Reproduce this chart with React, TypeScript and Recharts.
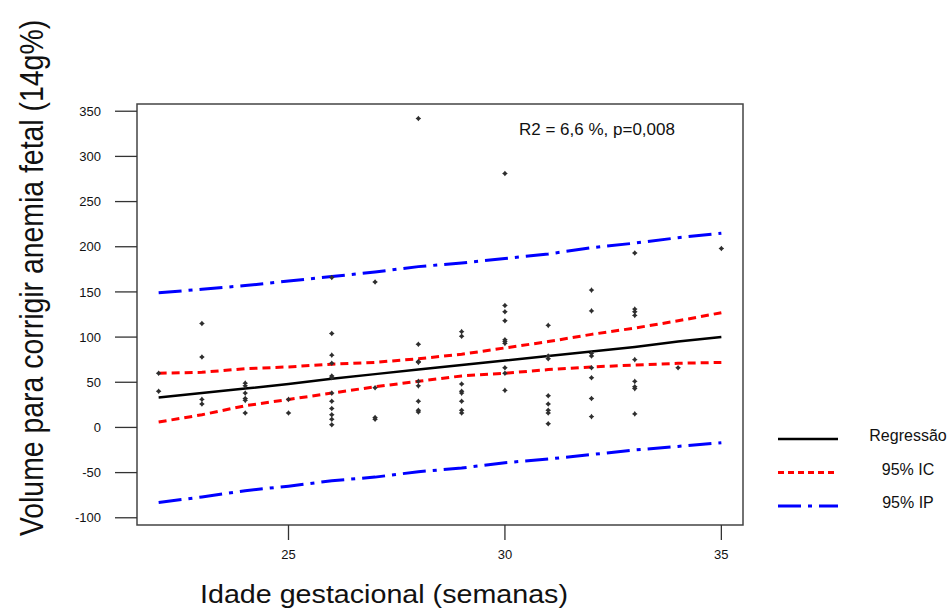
import { ComposedChart, Line, Scatter, XAxis, YAxis, ReferenceArea, Legend } from 'recharts'

// idade gestacional (semanas) para as curvas ajustadas
const weeks = [22, 23, 24, 25, 26, 27, 28, 29, 30, 31, 32, 33, 34, 35]
const regression = [33, 38, 43, 48, 54, 59, 64, 69, 74, 79, 84, 89, 95, 100]
const ciUpper = [60, 61, 65, 67, 70, 72, 76, 81, 88, 95, 103, 110, 118, 127]
const ciLower = [6, 14, 24, 31, 38, 45, 51, 57, 60, 64, 67, 69, 71, 72]
const piUpper = [149, 153, 157, 162, 167, 172, 178, 182, 187, 192, 199, 204, 210, 215]
const piLower = [-83, -77, -70, -65, -59, -55, -49, -45, -39, -35, -30, -25, -21, -17]

// observações (semana, volume)
const obsWeek = [
  22, 22,
  23, 23, 23, 23,
  24, 24, 24, 24, 24, 24,
  25, 25,
  26, 26, 26, 26, 26, 26, 26, 26, 26, 26, 26, 26,
  27, 27, 27, 27,
  28, 28, 28, 28, 28, 28, 28, 28, 28,
  29, 29, 29, 29, 29, 29, 29, 29,
  30, 30, 30, 30, 30, 30, 30, 30, 30, 30,
  31, 31, 31, 31, 31, 31, 31, 31,
  32, 32, 32, 32, 32, 32, 32, 32,
  33, 33, 33, 33, 33, 33, 33, 33, 33,
  34,
  35,
]
const obsVolume = [
  60, 40,
  115, 78, 31, 26,
  49, 46, 38, 32, 30, 16,
  31, 16,
  166, 104, 80, 71, 57, 55, 38, 29, 21, 14, 9, 3,
  161, 44, 11, 9,
  342, 92, 73, 72, 51, 46, 29, 19, 17,
  106, 101, 48, 40, 38, 29, 19, 16,
  281, 135, 128, 118, 97, 95, 93, 66, 60, 41,
  113, 79, 76, 35, 26, 19, 16, 4,
  152, 129, 82, 79, 66, 55, 32, 12,
  193, 131, 128, 124, 75, 51, 45, 43, 15,
  66,
  198,
]

const yTicks = [-100, -50, 0, 50, 100, 150, 200, 250, 300, 350]
const xTicks = [25, 30, 35]

const fitRows = weeks.map((x, i) => ({
  x,
  reg: regression[i],
  ciUp: ciUpper[i],
  ciLo: ciLower[i],
  piUp: piUpper[i],
  piLo: piLower[i],
}))
const points = obsWeek.map((x, i) => ({ x, y: obsVolume[i] }))

const FONT = 'Arial, "Liberation Sans", Helvetica, sans-serif'
const AXIS = '#333'

const Dot = (props: any) => {
  const { cx, cy } = props
  if (cx == null || cy == null) return null
  return (
    <path
      d={`M${cx},${cy - 2.8} L${cx + 1.2},${cy - 1.2} L${cx + 2.8},${cy} L${cx + 1.2},${cy + 1.2} L${cx},${cy + 2.8} L${cx - 1.2},${cy + 1.2} L${cx - 2.8},${cy} L${cx - 1.2},${cy - 1.2} Z`}
      fill="#2e2e2e"
    />
  )
}

const legendItems = [
  { label: 'Regressão', color: '#000', dash: undefined, width: 2.5 },
  { label: '95% IC', color: '#ff0000', dash: '6 4', width: 3 },
  { label: '95% IP', color: '#0000ff', dash: '23 7 4 7', width: 3 },
]

function LegendBox() {
  return (
    <svg width={182} height={100} style={{ display: 'block' }}>
      {legendItems.map((it, i) => {
        const y = 19 + i * 33.5
        return (
          <g key={it.label}>
            <line x1={8} x2={68} y1={y} y2={y} stroke={it.color} strokeWidth={it.width} strokeDasharray={it.dash} />
            <text x={138} y={y + 2} textAnchor="middle" fontFamily={FONT} fontSize={16} fill="#111">
              {it.label}
            </text>
          </g>
        )
      })}
    </svg>
  )
}

export default function App() {
  return (
    <div style={{ position: 'absolute', left: 0, top: 0, width: 952, height: 614, background: '#fff' }}>
      <ComposedChart
        width={952}
        height={614}
        data={fitRows}
        margin={{ top: 104, right: 209, bottom: 39, left: 0 }}
        style={{ fontFamily: FONT }}
      >
        <XAxis
          dataKey="x"
          type="number"
          domain={[21.5, 35.5]}
          ticks={xTicks}
          allowDataOverflow
          axisLine={false}
          tickSize={15}
          tickMargin={10}
          tickLine={{ stroke: AXIS, strokeWidth: 1.3 }}
          tick={{ fill: '#111', fontSize: 13 }}
          height={50}
          label={{
            content: () => (
              <text
                x={384}
                y={603}
                textAnchor="middle"
                fontFamily={FONT}
                fontSize={25}
                fill="#111"
                textLength={368}
                lengthAdjust="spacingAndGlyphs"
              >
                Idade gestacional (semanas)
              </text>
            ),
          }}
        />
        <YAxis
          type="number"
          domain={[-108, 358]}
          ticks={yTicks}
          allowDataOverflow
          axisLine={false}
          tickSize={22}
          tickMargin={14}
          tickLine={{ stroke: AXIS, strokeWidth: 1.3 }}
          tick={{ fill: '#111', fontSize: 13 }}
          width={137}
          label={{
            content: () => (
              <text
                x={0}
                y={0}
                transform="translate(43 278) rotate(-90) scale(0.861 1)"
                textAnchor="middle"
                fontFamily={FONT}
                fontSize={33}
                fill="#111"
              >
                Volume para corrigir anemia fetal (14g%)
              </text>
            ),
          }}
        />
        <ReferenceArea
          x1={21.5}
          x2={35.5}
          y1={-108}
          y2={358}
          fill="none"
          stroke="#444"
          strokeWidth={1.5}
          ifOverflow="visible"
          label={{
            content: () => (
              <text x={519} y={135} fontFamily={FONT} fontSize={17} fill="#111">
                R2 = 6,6 %, p=0,008
              </text>
            ),
          }}
        />
        <Line dataKey="piUp" stroke="#0000ff" strokeWidth={3} strokeDasharray="23 7 4 7" dot={false} isAnimationActive={false} legendType="none" />
        <Line dataKey="piLo" stroke="#0000ff" strokeWidth={3} strokeDasharray="23 7 4 7" dot={false} isAnimationActive={false} legendType="none" />
        <Line dataKey="ciUp" stroke="#ff0000" strokeWidth={3} strokeDasharray="8 5" dot={false} isAnimationActive={false} legendType="none" />
        <Line dataKey="ciLo" stroke="#ff0000" strokeWidth={3} strokeDasharray="8 5" dot={false} isAnimationActive={false} legendType="none" />
        <Line dataKey="reg" stroke="#000" strokeWidth={2.5} dot={false} isAnimationActive={false} legendType="none" />
        <Scatter data={points} dataKey="y" shape={<Dot />} isAnimationActive={false} legendType="none" />
        <Legend
          layout="vertical"
          align="center"
          verticalAlign="middle"
          content={() => <LegendBox />}
          wrapperStyle={{ position: 'absolute', left: 770, top: 420, width: 182, height: 100 }}
        />
      </ComposedChart>
    </div>
  )
}
